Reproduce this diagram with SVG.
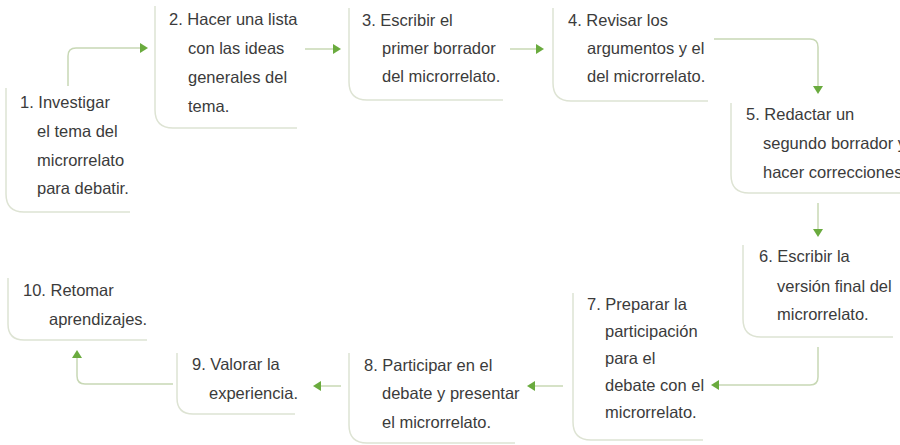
<svg xmlns="http://www.w3.org/2000/svg" width="900" height="445" viewBox="0 0 900 445">
<style>
.box{fill:none;stroke:#dde3d3;stroke-width:1.5}
.con{fill:none;stroke:#c8d8b5;stroke-width:1.5}
text{font-family:"Liberation Sans",Arial,sans-serif;font-size:16.5px;fill:#3b3b3b}
</style>
<defs>
<marker id="ah" viewBox="0 0 8 10" refX="0" refY="5" markerWidth="8" markerHeight="10" markerUnits="userSpaceOnUse" orient="auto">
<path d="M0,0 L8,5 L0,10 z" fill="#6aab3e"/>
</marker>
</defs>
<rect width="900" height="445" fill="#ffffff"/>

<g id="connectors">
<path class="con" d="M68,86 V56 Q68,48 76,48 H140" marker-end="url(#ah)"/>
<path class="con" d="M305,49 H333" marker-end="url(#ah)"/>
<path class="con" d="M510,49 H536" marker-end="url(#ah)"/>
<path class="con" d="M714,39 H810 Q818,39 818,47 V86" marker-end="url(#ah)"/>
<path class="con" d="M818,203 V229" marker-end="url(#ah)"/>
<path class="con" d="M818,347 V377 Q818,385 810,385 H719" marker-end="url(#ah)"/>
<path class="con" d="M563,386 H535" marker-end="url(#ah)"/>
<path class="con" d="M341,386 H321" marker-end="url(#ah)"/>
<path class="con" d="M173,384 H85 Q77,384 77,376 V358" marker-end="url(#ah)"/>
</g>

<g id="node1">
<path class="box" d="M6,88 V194 Q6,212 24,212 H130"/>
<text x="20" y="108">1. Investigar</text>
<text x="37" y="137">el tema del</text>
<text x="37" y="166">microrrelato</text>
<text x="37" y="194">para debatir.</text>
</g>

<g id="node2">
<path class="box" d="M155,6 V110 Q155,128 173,128 H297"/>
<text x="169" y="25">2. Hacer una lista</text>
<text x="188" y="54">con las ideas</text>
<text x="188" y="83">generales del</text>
<text x="188" y="112">tema.</text>
</g>

<g id="node3">
<path class="box" d="M349,8 V82 Q349,100 367,100 H503"/>
<text x="362" y="26">3. Escribir el</text>
<text x="382" y="54">primer borrador</text>
<text x="382" y="82">del microrrelato.</text>
</g>

<g id="node4">
<path class="box" d="M553,8 V83 Q553,101 571,101 H708"/>
<text x="568" y="26">4. Revisar los</text>
<text x="587" y="54">argumentos y el</text>
<text x="587" y="82">del microrrelato.</text>
</g>

<g id="node5">
<path class="box" d="M731,103 V175 Q731,193 749,193 H900"/>
<text x="746" y="120">5. Redactar un</text>
<text x="763" y="149">segundo borrador y</text>
<text x="763" y="178">hacer correcciones</text>
</g>

<g id="node6">
<path class="box" d="M743,245 V319 Q743,337 761,337 H893"/>
<text x="759" y="262">6. Escribir la</text>
<text x="777" y="292">versión final del</text>
<text x="777" y="320">microrrelato.</text>
</g>

<g id="node7">
<path class="box" d="M573,293 V422 Q573,440 591,440 H703"/>
<text x="587" y="310">7. Preparar la</text>
<text x="605" y="337">participación</text>
<text x="605" y="364">para el</text>
<text x="605" y="391">debate con el</text>
<text x="605" y="418">microrrelato.</text>
</g>

<g id="node8">
<path class="box" d="M349,353 V425 Q349,443 367,443 H515"/>
<text x="364" y="371">8. Participar en el</text>
<text x="382" y="399">debate y presentar</text>
<text x="382" y="428">el microrrelato.</text>
</g>

<g id="node9">
<path class="box" d="M177,353 V398 Q177,414 193,414 H295"/>
<text x="192" y="370">9. Valorar la</text>
<text x="209" y="399">experiencia.</text>
</g>

<g id="node10">
<path class="box" d="M8,278 V324 Q8,340 24,340 H147"/>
<text x="23" y="296">10. Retomar</text>
<text x="49" y="325">aprendizajes.</text>
</g>
</svg>
